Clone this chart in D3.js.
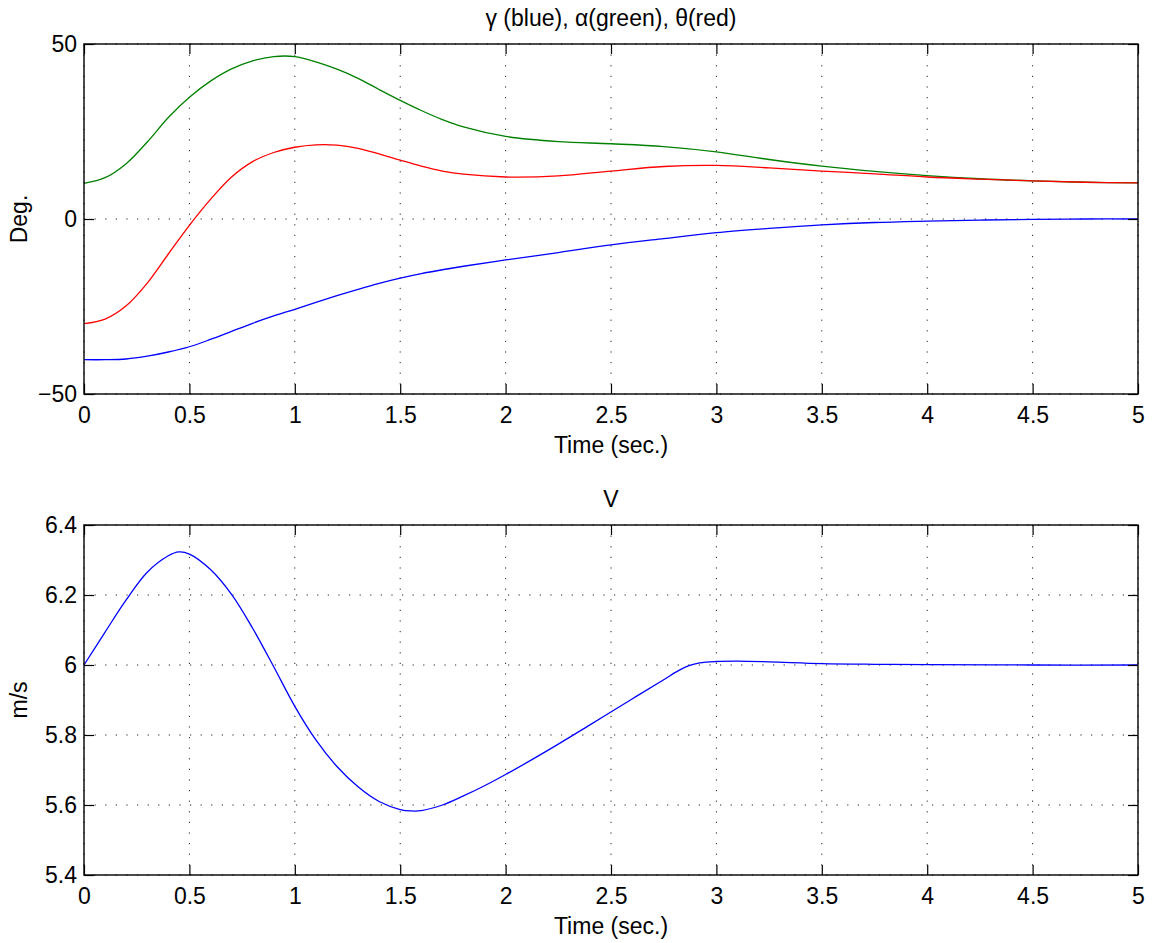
<!DOCTYPE html>
<html>
<head>
<meta charset="utf-8">
<script src="https://cdn.jsdelivr.net/npm/d3@7"></script>
<style>
  body { margin: 0; background: #fff; }
  svg { display: block; font-family: "Liberation Sans", Arial, Helvetica, sans-serif; }
  .axis path { display: none; }
  .axis line { stroke: #000; stroke-width: 1.2; }
  .axis text { font-size: 23px; fill: #000; }
  .grid line { stroke: #222; stroke-width: 1; stroke-dasharray: 1.2, 9.4; }
  .frame { fill: none; stroke: #000; stroke-width: 1.4; }
  .lbl { font-size: 23px; fill: #000; }
</style>
</head>
<body>
<div id="chart"></div>
<script>
const WIDTH = 1155, HEIGHT = 943;

// ---- data ----
const timeTicks = [0, 0.5, 1, 1.5, 2, 2.5, 3, 3.5, 4, 4.5, 5];
const degTicks = [-50, 0, 50];
const speedTicks = [5.4, 5.6, 5.8, 6, 6.2, 6.4];

const timeTop = [0, 0.1, 0.2, 0.3, 0.4, 0.5, 0.6, 0.7, 0.8, 0.9, 1.0, 1.1, 1.2, 1.3, 1.4, 1.5,
  1.6, 1.7, 1.8, 2.0, 2.25, 2.5, 2.75, 3.0, 3.25, 3.5, 3.75, 4.0, 4.25, 4.5, 4.75, 5.0];
const gamma = [-40.2, -40.2, -40.0, -39.2, -38.0, -36.5, -34.4, -32.1, -29.8, -27.7, -25.8, -23.8,
  -21.9, -20.1, -18.4, -16.9, -15.6, -14.5, -13.5, -11.7, -9.6, -7.4, -5.6, -3.9, -2.7, -1.7,
  -1.0, -0.6, -0.3, -0.1, 0.0, 0.0];
const alpha = [10.2, 11.8, 15.8, 22.0, 29.0, 34.8, 39.4, 42.9, 45.2, 46.4, 46.4, 44.9, 42.8, 40.2,
  37.0, 33.9, 31.0, 28.4, 26.3, 23.6, 22.1, 21.5, 20.7, 19.2, 17.0, 15.1, 13.6, 12.4, 11.5, 10.9,
  10.5, 10.3];
const theta = [-29.9, -28.6, -24.8, -18.3, -10.0, -1.8, 5.6, 12.0, 16.4, 19.0, 20.5, 21.2, 21.1,
  20.2, 18.6, 16.8, 15.1, 13.7, 12.8, 12.0, 12.3, 13.7, 15.0, 15.3, 14.6, 13.7, 12.9, 12.0, 11.4,
  10.9, 10.5, 10.3];

const timeV = [0, 0.1, 0.2, 0.3, 0.4, 0.45, 0.5, 0.6, 0.7, 0.8, 0.9, 1.0, 1.1, 1.2, 1.3, 1.4, 1.5,
  1.55, 1.6, 1.7, 1.8, 1.9, 2.0, 2.2, 2.4, 2.6, 2.75, 2.82, 2.87, 2.92, 3.0, 3.1, 3.25, 3.5, 3.75,
  4.0, 4.5, 5.0];
const speed = [6.0, 6.094, 6.186, 6.265, 6.312, 6.323, 6.317, 6.273, 6.202, 6.105, 5.995, 5.882,
  5.786, 5.710, 5.652, 5.610, 5.587, 5.583, 5.584, 5.600, 5.626, 5.655, 5.687, 5.756, 5.829,
  5.903, 5.958, 5.984, 5.998, 6.006, 6.010, 6.011, 6.009, 6.004, 6.002, 6.001, 6.0, 6.0];

const svg = d3.select("#chart").append("svg")
  .attr("width", WIDTH).attr("height", HEIGHT);

const x = d3.scaleLinear().domain([0, 5]).range([84, 1138]);

function panel(opts) {
  const y = d3.scaleLinear().domain(opts.yDomain).range([opts.bottom, opts.top]);
  const g = svg.append("g");

  // dotted grid
  g.append("g").attr("class", "grid")
    .selectAll("line").data(timeTicks).join("line")
    .attr("x1", d => x(d)).attr("x2", d => x(d))
    .attr("y1", opts.top).attr("y2", opts.bottom);
  g.append("g").attr("class", "grid")
    .selectAll("line").data(opts.yTicks).join("line")
    .attr("x1", x(0)).attr("x2", x(5))
    .attr("y1", d => y(d)).attr("y2", d => y(d));

  // series
  const line = d3.line().x(d => x(d[0])).y(d => y(d[1])).curve(d3.curveCatmullRom.alpha(0.5));
  opts.series.forEach(s => {
    g.append("path")
      .datum(d3.zip(s.t, s.v))
      .attr("fill", "none").attr("stroke", s.color).attr("stroke-width", 1.3)
      .attr("d", line);
  });

  // axes, ticks pointing inward on all four sides
  g.append("g").attr("class", "axis")
    .attr("transform", `translate(0,${opts.bottom})`)
    .call(d3.axisBottom(x).tickValues(timeTicks).tickSize(-10).tickPadding(13)
      .tickFormat(d3.format("")));
  g.append("g").attr("class", "axis")
    .attr("transform", `translate(0,${opts.top})`)
    .call(d3.axisTop(x).tickValues(timeTicks).tickSize(-10).tickFormat(""));
  g.append("g").attr("class", "axis")
    .attr("transform", `translate(${x(0)},0)`)
    .call(d3.axisLeft(y).tickValues(opts.yTicks).tickSize(-10).tickPadding(7)
      .tickFormat(opts.fmt));
  g.append("g").attr("class", "axis")
    .attr("transform", `translate(${x(5)},0)`)
    .call(d3.axisRight(y).tickValues(opts.yTicks).tickSize(-10).tickFormat(""));

  g.append("rect").attr("class", "frame")
    .attr("x", x(0)).attr("y", opts.top)
    .attr("width", x(5) - x(0)).attr("height", opts.bottom - opts.top);

  // title and labels
  g.append("text").attr("class", "lbl")
    .attr("x", (x(0) + x(5)) / 2).attr("y", opts.top - 18)
    .attr("text-anchor", "middle").text(opts.title);
  g.append("text").attr("class", "lbl")
    .attr("x", (x(0) + x(5)) / 2).attr("y", opts.bottom + 59)
    .attr("text-anchor", "middle").text("Time (sec.)");
  g.append("text").attr("class", "lbl")
    .attr("transform", `translate(27,${(opts.top + opts.bottom) / 2}) rotate(-90)`)
    .attr("text-anchor", "middle").text(opts.ylabel);
}

panel({
  top: 44, bottom: 394, yDomain: [-50, 50], yTicks: degTicks,
  fmt: d => d < 0 ? "\u2212" + Math.abs(d) : String(d),
  title: "\u03b3 (blue), \u03b1(green), \u03b8(red)", ylabel: "Deg.",
  series: [
    { t: timeTop, v: gamma, color: "#0000ff" },
    { t: timeTop, v: alpha, color: "#008000" },
    { t: timeTop, v: theta, color: "#ff0000" }
  ]
});

panel({
  top: 525, bottom: 875, yDomain: [5.4, 6.4], yTicks: speedTicks,
  fmt: d => d3.format("")(+d.toFixed(1)),
  title: "V", ylabel: "m/s",
  series: [{ t: timeV, v: speed, color: "#0000ff" }]
});
</script>
</body>
</html>
